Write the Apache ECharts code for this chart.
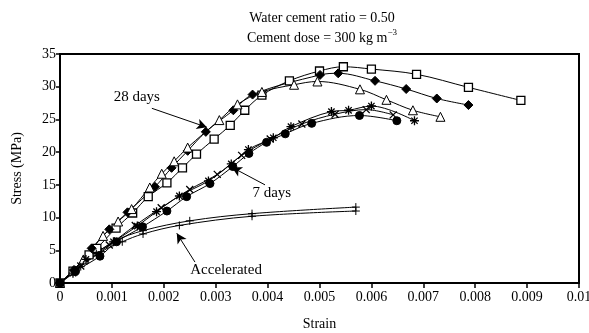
<!DOCTYPE html>
<html>
<head>
<meta charset="utf-8">
<script src="https://cdn.jsdelivr.net/npm/echarts@6/dist/echarts.min.js"></script>
<style>
  html, body { margin: 0; padding: 0; background: #fff; }
  #chart { width: 589px; height: 333px; }
</style>
</head>
<body>
<div id="chart"></div>
<script>
// Stress–strain curves, [strain, stress (MPa)] pairs
const day28Square = [[0,0],[0.00025,1.8],[0.00056,4.3],[0.00071,5.3],[0.00108,8.4],[0.0014,10.7],[0.0017,13.2],[0.00206,15.3],[0.00236,17.6],[0.00263,19.7],[0.00297,22.0],[0.00328,24.1],[0.00356,26.4],[0.00389,28.7],[0.00442,30.9],[0.005,32.4],[0.00546,33.05],[0.006,32.7],[0.00687,31.9],[0.00787,29.9],[0.00888,27.9]];
const day28Diamond = [[0,0],[0.00027,2.0],[0.00061,5.3],[0.00095,8.2],[0.0013,10.8],[0.00183,14.7],[0.00215,17.6],[0.00246,20.2],[0.00281,23.1],[0.00334,26.4],[0.00371,28.8],[0.00501,31.8],[0.00536,32.05],[0.00607,30.9],[0.00667,29.65],[0.00726,28.2],[0.00787,27.2]];
const day28Triangle = [[0,0],[0.00045,3.6],[0.00083,7.2],[0.00112,9.4],[0.00138,11.3],[0.00173,14.6],[0.00196,16.7],[0.0022,18.6],[0.00246,20.7],[0.00307,24.9],[0.00342,27.3],[0.00389,29.2],[0.00451,30.3],[0.00496,30.8],[0.00578,29.6],[0.00629,28.0],[0.0068,26.4],[0.00733,25.4]];
const day7Star = [[0,0],[0.00025,1.5],[0.0005,3.6],[0.00103,6.3],[0.00149,8.7],[0.00186,10.9],[0.0023,13.3],[0.00286,15.6],[0.0033,18.2],[0.00363,20.4],[0.00411,22.2],[0.00445,23.9],[0.00523,26.2],[0.00556,26.4],[0.006,27.05],[0.00683,24.8]];
const day7Circle = [[0,0],[0.0003,1.8],[0.00077,4.1],[0.00109,6.3],[0.00159,8.6],[0.00206,11.0],[0.00244,13.2],[0.00289,15.2],[0.00333,17.8],[0.00364,19.8],[0.00398,21.5],[0.00434,22.8],[0.00485,24.4],[0.00577,25.6],[0.00649,24.8]];
const day7Cross = [[0,0],[0.0004,2.6],[0.00095,5.8],[0.00145,8.8],[0.00195,11.5],[0.0025,14.3],[0.00303,16.6],[0.0035,19.5],[0.00405,22.0],[0.00466,24.3],[0.0053,25.8],[0.0059,26.5],[0.00642,25.7]];
const accelUpper = [[0,0],[0.0003,2.0],[0.0007,4.5],[0.00105,6.4],[0.0016,8.0],[0.0025,9.5],[0.0037,10.6],[0.0057,11.6]];
const accelLower = [[0,0],[0.0004,2.5],[0.0008,4.8],[0.0012,6.3],[0.0016,7.5],[0.0023,8.8],[0.0037,10.2],[0.0057,11.0]];

// Axis ranges
const xMin = 0, xMax = 0.01, xStep = 0.001;
const yMin = 0, yMax = 35, yStep = 5;

// Annotation arrows: [from, to] in data units, and their captions
const arrow28 = [[0.00177, 26.7], [0.00283, 23.8]];
const arrow7 = [[0.00395, 15.0], [0.00331, 17.7]];
const arrowAcc = [[0.0026, 3.2], [0.00225, 7.6]];
const captions = [
  { text: '28 days', at: [0.00148, 28.4] },
  { text: '7 days', at: [0.00408, 13.7] },
  { text: 'Accelerated', at: [0.0032, 2.0] }
];

const FONT = '"Liberation Serif", "DejaVu Serif", serif';

const starPath = 'path://M5,0 L5,10 M0,5 L10,5 M1.5,1.5 L8.5,8.5 M1.5,8.5 L8.5,1.5';
const crossPath = 'path://M0,0 L10,10 M0,10 L10,0';
const plusPath = 'path://M5,0 L5,10 M0,5 L10,5';

function curve(name, data, symbol, size, fill, extra) {
  return Object.assign({
    name: name,
    type: 'line',
    data: data,
    smooth: 0.35,
    symbol: symbol,
    symbolSize: size,
    showSymbol: true,
    lineStyle: { color: '#000', width: 1 },
    itemStyle: { color: fill, borderColor: '#000', borderWidth: 1 },
    z: 3
  }, extra || {});
}

function arrowLine(pair) {
  return [{ coord: pair[0], symbol: 'none' }, { coord: pair[1], symbol: 'arrow' }];
}

const chart = echarts.init(document.getElementById('chart'), null, { renderer: 'canvas' });

chart.setOption({
  animation: false,
  backgroundColor: '#fff',
  title: {
    text: 'Water cement ratio = 0.50\nCement dose = 300 kg m{sup|−3}',
    left: 317,
    textAlign: 'center',
    top: 3,
    textStyle: {
      fontFamily: FONT, fontSize: 14, fontWeight: 'normal', color: '#000', lineHeight: 20,
      rich: { sup: { fontFamily: FONT, fontSize: 9, verticalAlign: 'top', color: '#000', lineHeight: 20, padding: [0, 0, 8, 0] } }
    }
  },
  grid: {
    left: 60, right: 10, top: 54, bottom: 50,
    containLabel: false, outerBoundsMode: 'none',
    show: true, borderColor: '#000', borderWidth: 2, backgroundColor: 'transparent'
  },
  xAxis: {
    type: 'value', min: xMin, max: xMax, interval: xStep,
    name: 'Strain', nameLocation: 'middle', nameGap: 34,
    nameTextStyle: { fontFamily: FONT, fontSize: 14, color: '#000' },
    axisLine: { lineStyle: { color: '#000', width: 2 } },
    axisTick: { show: true, inside: false, length: 5, lineStyle: { color: '#000', width: 1.5 } },
    axisLabel: {
      fontFamily: FONT, fontSize: 14, color: '#000', margin: 7, hideOverlap: false,
      formatter: v => String(parseFloat(v.toFixed(3)))
    },
    splitLine: { show: false }
  },
  yAxis: {
    type: 'value', min: yMin, max: yMax, interval: yStep,
    name: 'Stress (MPa)', nameLocation: 'middle', nameGap: 36, nameRotate: 90,
    nameTextStyle: { fontFamily: FONT, fontSize: 14, color: '#000' },
    axisLine: { lineStyle: { color: '#000', width: 2 } },
    axisTick: { show: true, inside: false, length: 4, lineStyle: { color: '#000', width: 1.5 } },
    axisLabel: { fontFamily: FONT, fontSize: 14, color: '#000', margin: 4 },
    splitLine: { show: false }
  },
  series: [
    curve('28 d square', day28Square, 'rect', 8, '#fff', { itemStyle: { color: '#fff', borderColor: '#000', borderWidth: 1.3 } }),
    curve('28 d diamond', day28Diamond, 'diamond', 9, '#000'),
    curve('28 d triangle', day28Triangle, 'triangle', 9, '#fff'),
    curve('7 d star', day7Star, starPath, 9, 'none', { itemStyle: { color: '#000', borderColor: '#000', borderWidth: 1.3 } }),
    curve('7 d circle', day7Circle, 'circle', 8, '#000'),
    curve('7 d cross', day7Cross, crossPath, 7, 'none', { itemStyle: { color: '#000', borderColor: '#000', borderWidth: 1.3 } }),
    curve('Accelerated A', accelUpper, plusPath, 8, 'none', { itemStyle: { color: '#000', borderColor: '#000', borderWidth: 1 } }),
    curve('Accelerated B', accelLower, plusPath, 8, 'none', {
      itemStyle: { color: '#000', borderColor: '#000', borderWidth: 1 },
      markLine: {
        silent: true,
        symbolSize: [8, 10],
        lineStyle: { color: '#000', width: 1, type: 'solid' },
        label: { show: false },
        data: [arrowLine(arrow28), arrowLine(arrow7), arrowLine(arrowAcc)]
      }
    })
  ]
});

// Captions placed at their data positions
chart.setOption({
  graphic: captions.map(c => {
    const p = chart.convertToPixel({ gridIndex: 0 }, c.at);
    return {
      type: 'text', x: p[0], y: p[1], z: 10,
      style: { text: c.text, fontFamily: FONT, fontSize: 15, fill: '#000', align: 'center', verticalAlign: 'middle' }
    };
  })
});
</script>
</body>
</html>
